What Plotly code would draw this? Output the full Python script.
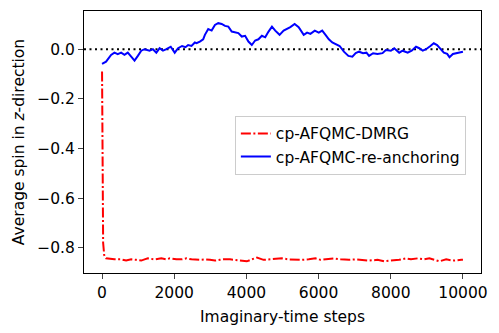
import plotly.graph_objects as go

# values
blue_steps = [0, 111, 250, 343, 435, 529, 621, 713, 808, 900, 992, 1086, 1178, 1318, 1409, 1504,
              1596, 1688, 1783, 1903, 2014, 2106, 2217, 2312, 2385, 2479, 2571, 2618, 2710, 2802,
              2850, 2942, 3036, 3128, 3220, 3315, 3407, 3499, 3593, 3685, 3777, 3872, 3964, 4056,
              4150, 4242, 4334, 4429, 4521, 4613, 4708, 4799, 4919, 5031, 5125, 5217, 5337, 5448,
              5588, 5682, 5774, 5894, 6005, 6100, 6192, 6284, 6379, 6471, 6582, 6702, 6825, 6936,
              7028, 7120, 7231, 7326, 7398, 7510, 7632, 7771, 7864, 8003, 8095, 8234, 8329, 8468,
              8579, 8699, 8791, 8886, 8978, 9098, 9192, 9284, 9376, 9471, 9563, 9627, 9721, 9861,
              10000]
blue_vals = [-0.059, -0.05, -0.023, -0.014, -0.02, -0.014, -0.023, -0.014, -0.03, -0.046, -0.027,
             -0.006, 0.0, -0.006, 0.0, -0.014, 0.004, -0.006, 0.0, 0.01, -0.014, 0.004, 0.013,
             0.008, 0.017, 0.013, 0.027, 0.024, 0.031, 0.04, 0.058, 0.081, 0.075, 0.098, 0.105,
             0.102, 0.094, 0.091, 0.071, 0.067, 0.065, 0.051, 0.054, 0.031, 0.017, 0.035, 0.04,
             0.054, 0.048, 0.071, 0.091, 0.075, 0.058, 0.075, 0.081, 0.089, 0.102, 0.089, 0.058,
             0.067, 0.062, 0.075, 0.067, 0.075, 0.058, 0.04, 0.027, 0.021, 0.013, -0.01, -0.027,
             -0.03, -0.016, -0.01, -0.016, -0.014, -0.027, -0.016, -0.019, -0.016, -0.003, -0.006,
             0.004, -0.014, -0.006, -0.014, -0.006, 0.01, 0.004, -0.006, 0.0, 0.013, 0.024, 0.017,
             0.0, -0.014, -0.019, -0.032, -0.019, -0.016, -0.01]

red_steps = [0, 15, 30, 60, 111, 343, 529, 668, 808, 947, 1086, 1178, 1270, 1457, 1643, 1783,
             1875, 2061, 2201, 2340, 2479, 2710, 2850, 2989, 3128, 3267, 3359, 3546, 3685, 3824,
             4011, 4150, 4290, 4474, 4660, 4847, 4986, 5170, 5357, 5543, 5727, 5914, 6053, 6240,
             6423, 6610, 6841, 7028, 7259, 7398, 7632, 7816, 8003, 8234, 8421, 8560, 8747, 8930,
             9070, 9209, 9348, 9535, 9721, 9954, 10000]
red_vals = [-0.09, -0.4, -0.78, -0.83, -0.843, -0.847, -0.847, -0.852, -0.847, -0.849, -0.852,
            -0.847, -0.843, -0.847, -0.843, -0.847, -0.843, -0.847, -0.847, -0.843, -0.847,
            -0.849, -0.847, -0.849, -0.852, -0.849, -0.847, -0.847, -0.849, -0.852, -0.855,
            -0.847, -0.84, -0.849, -0.847, -0.847, -0.843, -0.847, -0.849, -0.849, -0.847,
            -0.843, -0.849, -0.847, -0.843, -0.847, -0.849, -0.847, -0.849, -0.852, -0.849,
            -0.855, -0.852, -0.849, -0.843, -0.847, -0.843, -0.847, -0.843, -0.849, -0.855,
            -0.847, -0.852, -0.849, -0.849]

x_ticks = [0, 2000, 4000, 6000, 8000, 10000]
x_labels = ["0", "2000", "4000", "6000", "8000", "10000"]
y_ticks = [-0.8, -0.6, -0.4, -0.2, 0.0]
y_labels = ["\u22120.8", "\u22120.6", "\u22120.4", "\u22120.2", "0.0"]

font = "DejaVu Sans, sans-serif"
fs = 15.5

fig = go.Figure()

fig.add_trace(go.Scatter(
    x=red_steps, y=red_vals, mode="lines", name="cp-AFQMC-DMRG",
    line=dict(color="red", width=2, dash="10px,2.5px,2px,2.5px"),
))
fig.add_trace(go.Scatter(
    x=blue_steps, y=blue_vals, mode="lines", name="cp-AFQMC-re-anchoring",
    line=dict(color="blue", width=2),
))

# dotted zero line
fig.add_hline(y=0, line=dict(color="black", width=2, dash="2px,3.5px"), layer="below")

fig.update_layout(
    width=499, height=333,
    margin=dict(l=84, r=18, t=11, b=60),
    paper_bgcolor="white", plot_bgcolor="white",
    font=dict(family=font, size=fs, color="black"),
    legend=dict(
        x=0.38, y=0.6, xanchor="left", yanchor="top",
        bgcolor="rgba(255,255,255,0.8)", bordercolor="#cccccc", borderwidth=1,
        font=dict(size=fs),
    ),
)

fig.update_xaxes(
    range=[-500, 10500], tickvals=x_ticks, ticktext=x_labels, ticks="outside", ticklen=5,
    tickwidth=1.1, showline=True, linecolor="black", linewidth=1.1, mirror=True,
    showgrid=False, zeroline=False, automargin=False, tickfont=dict(size=fs),
    title=dict(text="Imaginary-time steps", standoff=10, font=dict(size=fs)),
)
fig.update_yaxes(
    range=[-0.902, 0.154], tickvals=y_ticks, ticktext=y_labels, ticks="outside", ticklen=5,
    tickwidth=1.1, showline=True, linecolor="black", linewidth=1.1, mirror=True,
    showgrid=False, zeroline=False, automargin=False, tickfont=dict(size=fs),
    title=dict(text="Average spin in <i>z</i>-direction", standoff=8, font=dict(size=fs)),
)

# drop the page's default body margin so the figure sits at the window corner
fig.write_html("out.html", config={"displayModeBar": False},
               post_script="document.body.style.margin='0';")
